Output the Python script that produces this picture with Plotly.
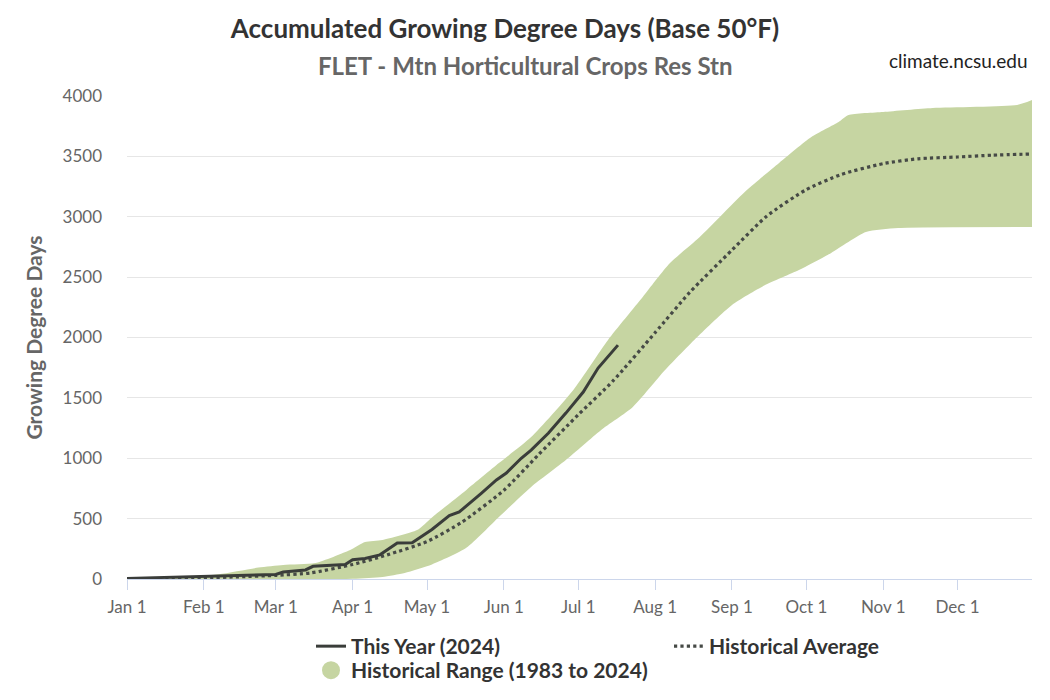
import plotly.graph_objects as go

# ---- data ----
this_year_dates = ["2024-01-01", "2024-01-25", "2024-02-10", "2024-02-11", "2024-02-19", "2024-03-01",
                   "2024-03-04", "2024-03-08", "2024-03-13", "2024-03-16", "2024-03-29", "2024-04-01",
                   "2024-04-06", "2024-04-12", "2024-04-19", "2024-04-25", "2024-05-03", "2024-05-10",
                   "2024-05-14", "2024-05-23", "2024-05-29", "2024-06-02", "2024-06-08", "2024-06-12",
                   "2024-06-19", "2024-06-26", "2024-07-03", "2024-07-09", "2024-07-17"]
this_year_gdd = [5, 17, 22, 27, 30, 38, 58, 66, 75, 105, 120, 160, 170, 200, 298, 300, 410, 525,
                 555, 712, 820, 877, 1000, 1068, 1209, 1374, 1548, 1747, 1937]

avg_dates = ["2024-01-01", "2024-01-15", "2024-02-01", "2024-02-15", "2024-03-01", "2024-03-15",
             "2024-04-01", "2024-04-15", "2024-05-01", "2024-05-15", "2024-06-01", "2024-06-15",
             "2024-07-01", "2024-07-15", "2024-08-01", "2024-08-15", "2024-09-01", "2024-09-15",
             "2024-10-01", "2024-10-15", "2024-11-01", "2024-11-15", "2024-12-01", "2024-12-15",
             "2024-12-31"]
avg_gdd = [0, 3, 10, 18, 30, 50, 120, 200, 310, 470, 735, 1030, 1360, 1640, 2040, 2375, 2724, 3005,
           3225, 3350, 3440, 3480, 3495, 3510, 3520]

upper_dates = ["2024-01-01", "2024-01-18", "2024-02-07", "2024-02-23", "2024-03-04", "2024-03-17",
               "2024-03-31", "2024-04-06", "2024-04-13", "2024-04-27", "2024-05-03", "2024-05-17",
               "2024-05-30", "2024-06-12", "2024-06-29", "2024-07-13", "2024-07-27", "2024-08-07",
               "2024-08-19", "2024-09-07", "2024-09-20", "2024-10-03", "2024-10-14", "2024-10-18",
               "2024-11-01", "2024-11-21", "2024-12-25", "2024-12-31"]
upper_gdd = [0, 15, 40, 95, 116, 132, 240, 306, 323, 405, 510, 740, 960, 1175, 1565, 1979, 2335,
             2616, 2832, 3221, 3445, 3660, 3784, 3842, 3867, 3900, 3925, 3966]

lower_dates = ["2024-01-01", "2024-04-01", "2024-04-13", "2024-04-22", "2024-05-03", "2024-05-17",
               "2024-05-30", "2024-06-12", "2024-06-26", "2024-07-10", "2024-07-23", "2024-08-05",
               "2024-08-18", "2024-09-01", "2024-09-14", "2024-09-28", "2024-10-11", "2024-10-25",
               "2024-11-07", "2024-12-31"]
lower_gdd = [0, 2, 17, 50, 120, 260, 513, 762, 985, 1230, 1424, 1730, 2004, 2270, 2430, 2558, 2700,
             2873, 2906, 2915]

tick_dates = ["2024-01-01", "2024-02-01", "2024-03-01", "2024-04-01", "2024-05-01", "2024-06-01",
              "2024-07-01", "2024-08-01", "2024-09-01", "2024-10-01", "2024-11-01", "2024-12-01"]
tick_labels = ["Jan 1", "Feb 1", "Mar 1", "Apr 1", "May 1", "Jun 1",
               "Jul 1", "Aug 1", "Sep 1", "Oct 1", "Nov 1", "Dec 1"]
y_ticks = [0, 500, 1000, 1500, 2000, 2500, 3000, 3500, 4000]

BAND = "#c6d5a2"
LINE = "#3a3d3a"
FONT = "Lato"

# plot area in figure pixels
L, R, T, B = 119, 26, 88, 129
W, H = 1050, 700
PW, PH = W - L - R, H - T - B


def px(xf):  # figure x px -> paper
    return (xf - L) / PW


def py(yf):  # figure y px -> paper
    return (H - B - yf) / PH


fig = go.Figure()

# Historical range band
fig.add_trace(go.Scatter(
    x=lower_dates, y=lower_gdd, mode="lines",
    line=dict(width=0, color=BAND, shape="spline", smoothing=0.6),
    showlegend=False, hoverinfo="skip"))
fig.add_trace(go.Scatter(
    x=upper_dates, y=upper_gdd, mode="lines", fill="tonexty", fillcolor=BAND,
    line=dict(width=0, color=BAND, shape="spline", smoothing=0.6),
    showlegend=False, hoverinfo="skip"))

fig.add_trace(go.Scatter(
    x=avg_dates, y=avg_gdd, mode="lines", name="Historical Average",
    line=dict(color="#464a46", width=3.2, dash="dot", shape="spline", smoothing=0.6),
    legend="legend2"))

fig.add_trace(go.Scatter(
    x=this_year_dates, y=this_year_gdd, mode="lines", name="This Year (2024)",
    line=dict(color=LINE, width=3), legend="legend"))

# legend-only entry for the range (circle symbol)
fig.add_trace(go.Scatter(
    x=[None], y=[None], mode="markers", name="Historical Range (1983 to 2024)",
    marker=dict(symbol="circle", size=20, color=BAND, line=dict(width=2, color=BAND)),
    legend="legend3"))

legend_font = dict(family=FONT, size=21, color="#333333", weight="bold")
common_legend = dict(orientation="v", xanchor="left", yanchor="top", font=legend_font,
                     itemsizing="trace", bgcolor="rgba(0,0,0,0)")

fig.update_layout(
    width=W, height=H,
    margin=dict(l=L, r=R, t=T, b=B),
    paper_bgcolor="white", plot_bgcolor="white",
    font=dict(family=FONT, color="#333333"),
    title=dict(text="<b>Accumulated Growing Degree Days (Base 50°F)</b>",
               x=497 / W, xref="container", xanchor="center",
               y=1 - 21 / H, yref="container", yanchor="middle",
               font=dict(family=FONT, size=26, color="#333333")),
    showlegend=True,
    legend=dict(x=px(303), y=py(618), **common_legend),
    legend2=dict(x=px(661), y=py(618), **common_legend),
    legend3=dict(x=px(303), y=py(642), **common_legend),
    xaxis=dict(type="date", range=["2024-01-01", "2024-12-31"],
               tickvals=tick_dates, ticktext=tick_labels,
               ticks="outside", ticklen=10, tickwidth=1, tickcolor="#ccd6eb",
               ticklabelstandoff=3,
               showline=True, linecolor="#ccd6eb", linewidth=1,
               showgrid=False, zeroline=False,
               tickfont=dict(family=FONT, size=17, color="#666666")),
    yaxis=dict(range=[0, 4000], tickvals=y_ticks,
               showgrid=True, gridcolor="#e6e6e6", gridwidth=1, zeroline=False,
               ticks="", ticklabelstandoff=24,
               tickfont=dict(family=FONT, size=17, color="#666666"),
               title=dict(text="<b>Growing Degree Days</b>", standoff=14,
                          font=dict(family=FONT, size=21, color="#666666"))),
    annotations=[
        dict(text="<b>FLET - Mtn Horticultural Crops Res Stn</b>", x=px(517), xref="paper",
             y=py(57), yref="paper", xanchor="center", yanchor="middle",
             showarrow=False, font=dict(family=FONT, size=24, color="#666666")),
        dict(text="climate.ncsu.edu", x=px(1022), xref="paper",
             y=py(52), yref="paper", xanchor="right", yanchor="middle",
             showarrow=False, font=dict(family=FONT, size=19, color="#222222")),
    ],
)

fig.write_html("out.html")
